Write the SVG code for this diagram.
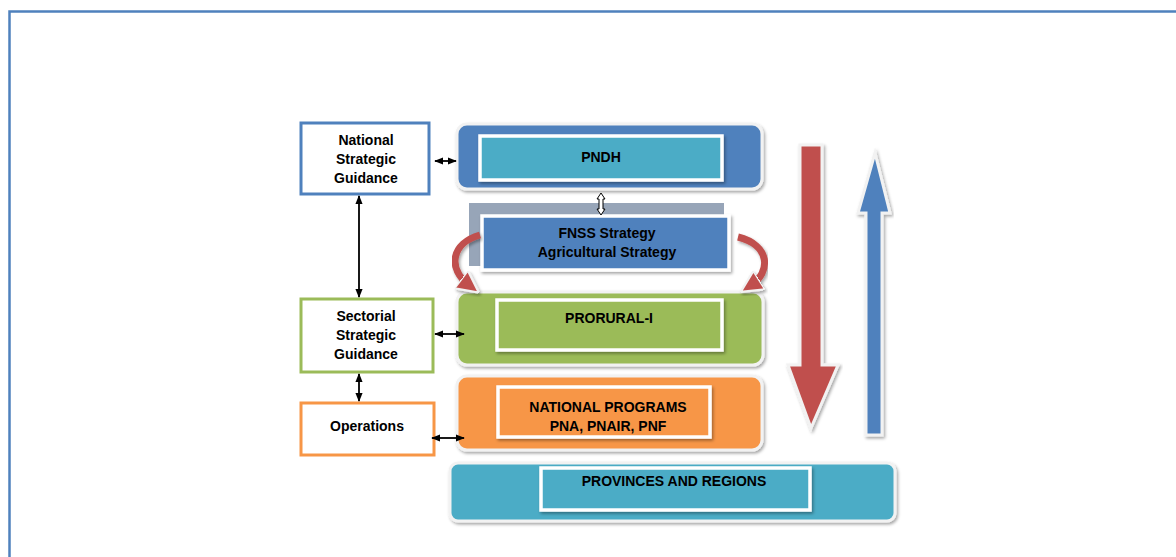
<svg xmlns="http://www.w3.org/2000/svg" width="1176" height="557" viewBox="0 0 1176 557">
  <defs>
    <marker id="ah" viewBox="0 0 10 10" refX="9" refY="5" markerWidth="9" markerHeight="9" orient="auto-start-reverse" markerUnits="userSpaceOnUse">
      <path d="M0,1 L10,5 L0,9 z" fill="#000"/>
    </marker>
    <marker id="rh" viewBox="0 0 10 10" refX="5" refY="5" markerWidth="22" markerHeight="22" orient="auto" markerUnits="userSpaceOnUse">
      <path d="M0,0 L10,5 L0,10 z" fill="#c0504d" stroke="#f2f2f2" stroke-width="1"/>
    </marker>
    <filter id="sh" x="-10%" y="-10%" width="120%" height="130%">
      <feDropShadow dx="1.5" dy="2" stdDeviation="1.5" flood-color="#000" flood-opacity="0.35"/>
    </filter>
  </defs>
  <style>
    .lbl { font-family: "Liberation Sans", Arial, sans-serif; font-weight: bold; font-size: 14px; fill: #000; text-anchor: middle; }
    .side { fill: #fff; stroke-width: 3; }
    .band { stroke: #f2f2f2; stroke-width: 3; filter: url(#sh); }
    .inner { stroke: #fff; stroke-width: 3.5; filter: url(#sh); }
    .conn { stroke: #000; stroke-width: 1.8; fill: none; marker-start: url(#ah); marker-end: url(#ah); }
  </style>

  <!-- page frame -->
  <path d="M9.5,557 V11.5 H1176" fill="none" stroke="#4f81bd" stroke-width="2.5"/>

  <!-- left column: guidance levels -->
  <g id="national-guidance">
    <rect class="side" x="301" y="123" width="128" height="71" stroke="#4f81bd"/>
    <text class="lbl" x="366" y="145">National</text>
    <text class="lbl" x="366" y="164">Strategic</text>
    <text class="lbl" x="366" y="183">Guidance</text>
  </g>
  <g id="sectorial-guidance">
    <rect class="side" x="301" y="299" width="132" height="73" stroke="#9bbb59"/>
    <text class="lbl" x="366" y="321">Sectorial</text>
    <text class="lbl" x="366" y="340">Strategic</text>
    <text class="lbl" x="366" y="359">Guidance</text>
  </g>
  <g id="operations">
    <rect class="side" x="301" y="403" width="133" height="52" stroke="#f79646"/>
    <text class="lbl" x="367" y="431">Operations</text>
  </g>

  <!-- right column: planning layers -->
  <g id="pndh">
    <rect class="band" x="457" y="124" width="305" height="65" rx="10" fill="#4f81bd"/>
    <rect class="inner" x="480" y="136" width="242" height="44" fill="#4bacc6"/>
    <text class="lbl" x="601" y="162">PNDH</text>
  </g>
  <g id="fnss">
    <rect x="469" y="203" width="255" height="63" fill="#97a5b8"/>
    <rect class="inner" x="482" y="216" width="247" height="54" fill="#4f81bd"/>
    <text class="lbl" x="607" y="238" font-size="13.5">FNSS Strategy</text>
    <text class="lbl" x="607" y="257" font-size="13.5">Agricultural Strategy</text>
  </g>
  <g id="prorural">
    <rect class="band" x="457" y="292" width="306" height="73" rx="10" fill="#9bbb59"/>
    <rect class="inner" x="497" y="300" width="225" height="50" fill="#9bbb59"/>
    <text class="lbl" x="609" y="323">PRORURAL-I</text>
  </g>
  <g id="national-programs">
    <rect class="band" x="457" y="376" width="305" height="74" rx="10" fill="#f79646"/>
    <rect class="inner" x="498" y="387" width="212" height="50" fill="#f79646"/>
    <text class="lbl" x="608" y="412" font-size="13.5">NATIONAL PROGRAMS</text>
    <text class="lbl" x="608" y="431" font-size="13.5">PNA, PNAIR, PNF</text>
  </g>
  <g id="provinces">
    <rect class="band" x="450" y="463" width="445" height="58" rx="8" fill="#4bacc6"/>
    <rect class="inner" x="541" y="468" width="269" height="42" fill="#4bacc6"/>
    <text class="lbl" x="674" y="486" font-size="13.5">PROVINCES AND REGIONS</text>
  </g>

  <!-- flow arrows: top-down and bottom-up -->
  <g id="top-down">
    <path d="M800,145 H822 V365 H838 L811,428 L788,365 H800 Z" fill="#c0504d" stroke="#f2f2f2" stroke-width="3" filter="url(#sh)"/>
  </g>
  <g id="bottom-up">
    <path d="M866,435 H882 V213 H890 L875,153 L858,213 H866 Z" fill="#4f81bd" stroke="#f2f2f2" stroke-width="3" filter="url(#sh)"/>
  </g>

  <!-- connectors -->
  <g id="connectors">
    <line class="conn" x1="435" y1="161" x2="456" y2="161"/>
    <line class="conn" x1="359" y1="196" x2="359" y2="297"/>
    <line class="conn" x1="435" y1="334" x2="464" y2="334"/>
    <line class="conn" x1="359" y1="374" x2="359" y2="401"/>
    <line class="conn" x1="432" y1="438" x2="464" y2="438"/>
    <!-- hollow link between PNDH and the strategies -->
    <path d="M601,193 L605,199 H603 V209 H605 L601,215 L597,209 H599 V199 H597 Z" fill="#fff" stroke="#000" stroke-width="1"/>
    <!-- curved loops around the strategy box -->
    <path d="M480,235 C452,243 446,268 470,286" fill="none" stroke="#c0504d" stroke-width="7" marker-end="url(#rh)" filter="url(#sh)"/>
    <path d="M738,237 C770,245 772,272 750,286" fill="none" stroke="#c0504d" stroke-width="7" marker-end="url(#rh)" filter="url(#sh)"/>
  </g>
</svg>
